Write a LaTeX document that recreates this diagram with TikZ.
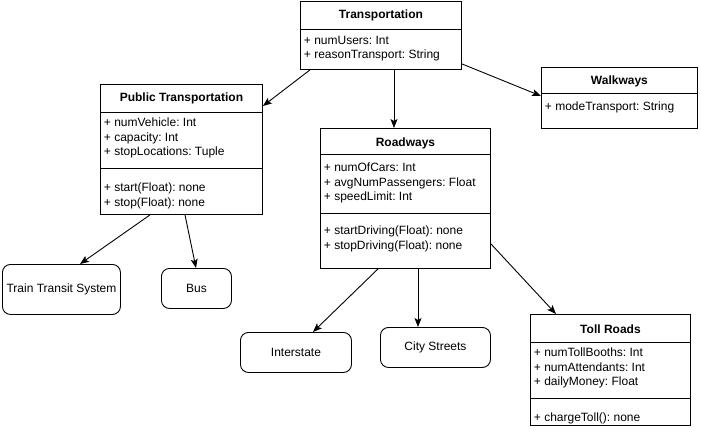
\documentclass[tikz,border=0pt]{standalone}
\usepackage{fontspec}
\setmainfont{Liberation Sans}
\usetikzlibrary{calc,arrows.meta}
\frenchspacing

\tikzset{
	classbox/.style={draw, anchor=north west, inner sep=0pt},
	leafbox/.style={draw, rounded corners=8pt, anchor=north west, inner sep=0pt, font=\fontsize{12}{14.5}\selectfont},
	classname/.style={font=\bfseries\fontsize{12}{14.5}\selectfont, inner sep=0pt},
	members/.style={font=\fontsize{12}{14.5}\selectfont, align=left, anchor=north west, inner sep=0pt},
}

\begin{document}
\begin{tikzpicture}[x=1pt,y=-1pt,line width=0.9pt,>={Stealth[length=9pt,width=7pt,inset=2pt]}]
		\useasboundingbox (0,0) rectangle (701,432);
		\path
		(300,1) coordinate (T)
		(100,84) coordinate (P)
		(320,128) coordinate (R)
		(541,67) coordinate (W)
		(530,314) coordinate (L)
		;
		\node[classbox, minimum width=161pt, minimum height=68pt] (trans) at (T) {};
		\node[classbox, minimum width=162pt, minimum height=130pt] (pub) at (P) {};
		\node[classbox, minimum width=170pt, minimum height=140pt] (road) at (R) {};
		\node[classbox, minimum width=156pt, minimum height=61pt] (walk) at (W) {};
		\node[classbox, minimum width=160pt, minimum height=111pt] (toll) at (L) {};
		\draw
		($(trans.north west)+(0,28)$) -- ($(trans.north east)+(0,28)$)
		($(pub.north west)+(0,28)$) -- ($(pub.north east)+(0,28)$)
		($(pub.north west)+(0,84)$) -- ($(pub.north east)+(0,84)$)
		($(road.north west)+(0,26)$) -- ($(road.north east)+(0,26)$)
		($(road.north west)+(0,85)$) -- ($(road.north east)+(0,85)$)
		($(walk.north west)+(0,26)$) -- ($(walk.north east)+(0,26)$)
		($(toll.north west)+(0,28)$) -- ($(toll.north east)+(0,28)$)
		($(toll.north west)+(0,84)$) -- ($(toll.north east)+(0,84)$)
		;
		\node[classname] (trans-name) at ($(trans.north)+(0,14)$) {Transportation};
		\node[classname] (pub-name) at ($(pub.north)+(0,14)$) {Public Transportation};
		\node[classname] (road-name) at ($(road.north)+(0,15)$) {Roadways};
		\node[classname] (walk-name) at ($(walk.north)+(0,14.5)$) {Walkways};
		\node[classname] (toll-name) at ($(toll.north)+(0,15)$) {Toll Roads};
		\node[members] (trans-attr) at ($(trans.north west)+(3.5,34.4)$) {+ numUsers: Int\\+ reasonTransport: String};
		\node[members] (pub-attr) at ($(pub.north west)+(3.5,33.4)$) {+ numVehicle: Int\\+ capacity: Int\\+ stopLocations: Tuple};
		\node[members] (pub-ops) at ($(pub.north west)+(3.5,98.4)$) {+ start(Float): none\\+ stop(Float): none};
		\node[members] (road-attr) at ($(road.north west)+(3.5,34.4)$) {+ numOfCars: Int\\+ avgNumPassengers: Float\\+ speedLimit: Int};
		\node[members] (road-ops) at ($(road.north west)+(3.5,97.4)$) {+ startDriving(Float): none\\+ stopDriving(Float): none};
		\node[members] (walk-attr) at ($(walk.north west)+(3.5,34.4)$) {+ modeTransport: String};
		\node[members] (toll-attr) at ($(toll.north west)+(3.5,33.4)$) {+ numTollBooths: Int\\+ numAttendants: Int\\+ dailyMoney: Float};
		\node[members] (toll-ops) at ($(toll.north west)+(3.5,98.4)$) {+ chargeToll(): none};
		% leaves
		\node[leafbox, minimum width=118pt, minimum height=50pt] (train) at (2,264) {Train Transit System};
		\node[leafbox, minimum width=70pt, minimum height=40pt] (bus) at (161,268) {Bus};
		\node[leafbox, minimum width=111pt, minimum height=40pt] (inter) at (240,332) {Interstate};
		\node[leafbox, minimum width=110pt, minimum height=40pt] (city) at (380,327) {City Streets};
		\draw[->] ($(trans.south west)+(10,0)$) -- ($(pub.north east)+(0,22)$);
		\draw[->] ($(trans.south west)+(94,0)$) -- ($(road.north west)+(74,0)$);
		\draw[->] ($(trans.south east)+(0,-6)$) -- ($(walk.north west)+(0,29)$);
		\draw[->] ($(pub.south west)+(50,0)$) -- ($(train.north west)+(78,0)$);
		\draw[->] ($(pub.south west)+(85,0)$) -- ($(bus.north west)+(35,0)$);
		\draw[->] ($(road.south west)+(58,0)$) -- ($(inter.north west)+(73,0)$);
		\draw[->] ($(road.south west)+(98,0)$) -- ($(city.north west)+(38,0)$);
		\draw[->] ($(road.south east)+(0,-25)$) -- ($(toll.north west)+(26,0)$);
	\end{tikzpicture}
\end{document}
